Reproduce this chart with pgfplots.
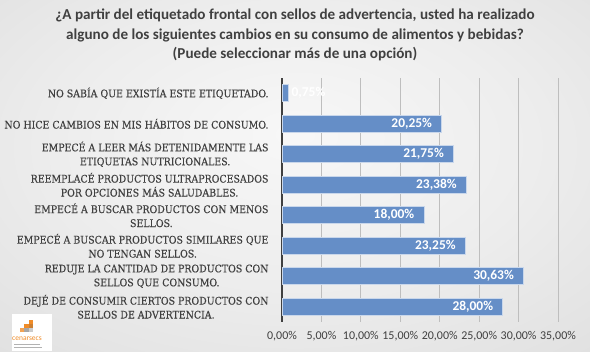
\documentclass[border=0pt]{standalone}
\usepackage{pgfplots}
\usepackage{pgfplotstable}
\pgfplotsset{compat=1.18}
\usepackage{fontspec}
\setmainfont{Carlito}
\newfontfamily\catfont[FakeBold=0.3]{DejaVu Serif Condensed}
\definecolor{barblue}{RGB}{101,142,199}
\definecolor{labelgray}{RGB}{64,64,64}
\definecolor{gridgray}{RGB}{190,190,190}
\definecolor{logoorange}{RGB}{240,140,40}
\pgfplotstableread{
y x
1 20.25
2 21.75
3 23.38
4 18.00
5 23.25
6 30.63
7 28.00
}\mainbars
\pgfplotstableread{
y x
0 0.75
}\smallbar
\begin{document}
\begin{tikzpicture}[x=1bp,y=1bp]
\pgfdeclareradialshading{bgshade}{\pgfpoint{0bp}{6bp}}{color(0bp)=(white!97!black); color(20bp)=(white!93!black); color(72bp)=(white!79!black)}
\path[use as bounding box] (0,0) rectangle (590,351);
\shade[shading=bgshade] (0,0) rectangle (590,351);
\node[align=center, font=\bfseries\fontsize{15.2}{19.5}\selectfont, text=labelgray] at (295,316)
 {¿A partir del etiquetado frontal con sellos de advertencia, usted ha realizado\\
  alguno de los siguientes cambios en su consumo de alimentos y bebidas?\\
  (Puede seleccionar más de una opción)};
\begin{axis}[
  at={(282bp,29bp)}, anchor=south west, scale only axis,
  width=276bp, height=244bp,
  xbar, bar width=17bp, bar shift=0pt,
  xmin=0, xmax=35, ymin=-0.5, ymax=7.5, y dir=reverse,
  axis x line*=bottom, x axis line style={draw=none},
  axis y line*=left, y axis line style={draw=labelgray, line width=1.8bp, -},
  major tick length=0pt,
  xmajorgrids, grid style={gridgray, line width=0.8bp},
  xtick={0,5,...,35},
  xticklabels={{0,00\%},{5,00\%},{10,00\%},{15,00\%},{20,00\%},{25,00\%},{30,00\%},{35,00\%}},
  xticklabel style={font=\fontsize{12}{14}\selectfont, text=labelgray, yshift=-6bp},
  ytick={0,...,7},
  yticklabels={
    {NO SABÍA QUE EXISTÍA ESTE ETIQUETADO.},
    {NO HICE CAMBIOS EN MIS HÁBITOS DE CONSUMO.},
    {EMPECÉ A LEER MÁS DETENIDAMENTE LAS\\ETIQUETAS NUTRICIONALES.},
    {REEMPLACÉ PRODUCTOS ULTRAPROCESADOS\\POR OPCIONES MÁS SALUDABLES.},
    {EMPECÉ A BUSCAR PRODUCTOS CON MENOS\\SELLOS.},
    {EMPECÉ A BUSCAR PRODUCTOS SIMILARES QUE\\NO TENGAN SELLOS.},
    {REDUJE LA CANTIDAD DE PRODUCTOS CON\\SELLOS QUE CONSUMO.},
    {DEJÉ DE CONSUMIR CIERTOS PRODUCTOS CON\\SELLOS DE ADVERTENCIA.}},
  yticklabel style={font={\catfont\fontsize{10.5}{14}\selectfont}, align=center, text=labelgray, xshift=-10bp},
  point meta=x,
  nodes near coords={\pgfmathprintnumber[fixed, fixed zerofill, precision=2, use comma, assume math mode=true]{\pgfplotspointmeta}\%},
  nodes near coords style={font=\bfseries\fontsize{13.5}{14}\selectfont, text=white},
]
\addplot[fill=barblue, draw=white!65!barblue, line width=0.8bp,
  every node near coord/.append style={anchor=east, xshift=-6bp}] table[x=x, y=y] {\mainbars};
\addplot[fill=barblue, draw=white!65!barblue, line width=0.8bp,
  every node near coord/.append style={anchor=west, xshift=0bp}] table[x=x, y=y] {\smallbar};
\end{axis}
% logo
\fill[white] (12,0) rectangle (52,37);
\fill[logoorange] (29,27) rectangle (33,31);
\fill[logoorange] (24,23) rectangle (29,27);
\fill[orange!60!gray] (29,23) rectangle (33,27);
\fill[logoorange!80!white] (20,19) rectangle (24,23);
\fill[gray!70] (24,19) rectangle (29,23);
\fill[gray!40] (29,19) rectangle (33,23);
\node[font=\fontsize{7.5}{8}\selectfont, text=logoorange, inner sep=0] at (27,12) {cenarsecs};
\fill[gray!60] (14,6) rectangle (40,7);
\fill[gray!60] (14,3) rectangle (42,4);
\end{tikzpicture}
\end{document}
